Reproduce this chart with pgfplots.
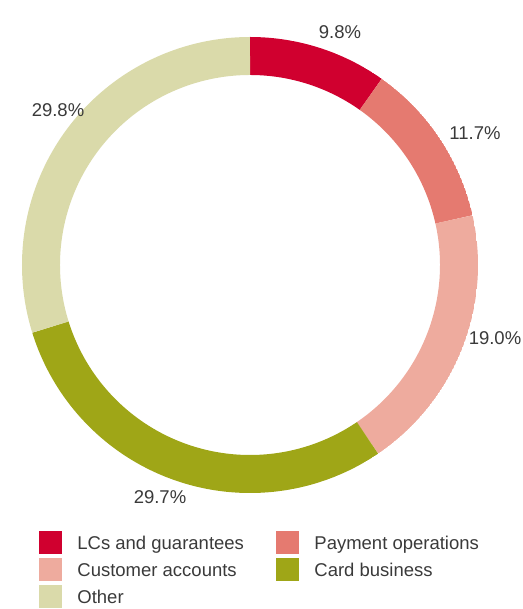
\documentclass[border=0pt]{standalone}
\usepackage{pgfplots}
\pgfplotsset{compat=1.18}
\usepgfplotslibrary{polar}
\usepackage{fontspec}
\setmainfont{Liberation Sans}
\definecolor{cLC}{HTML}{D0002F}
\definecolor{cPay}{HTML}{E57A70}
\definecolor{cCust}{HTML}{EEAB9E}
\definecolor{cCard}{HTML}{9FA617}
\definecolor{cOther}{HTML}{DADAAA}
\definecolor{txt}{HTML}{3A3A3A}
\begin{document}
\begin{tikzpicture}
\path[use as bounding box] (0pt,0pt) rectangle (522pt,609pt);
\coordinate (ctr) at (250pt,344pt);
% shares in percent, clockwise from the top
\pgfmathsetmacro\aA{90}
\pgfmathsetmacro\aB{\aA-3.6*9.8}
\pgfmathsetmacro\aC{\aB-3.6*11.7}
\pgfmathsetmacro\aD{\aC-3.6*19.0}
\pgfmathsetmacro\aE{\aD-3.6*29.7}
\pgfmathsetmacro\aF{\aE-3.6*29.8}
\begin{polaraxis}[
  hide axis,
  scale only axis,
  width=456pt, height=456pt,
  ymin=0, ymax=1,
  at={(ctr)}, anchor=center,
  legend columns=2,
  legend cell align=left,
  legend style={draw=none, fill=none, inner sep=0pt, outer sep=0pt,
    at={(-211pt,-266pt)}, anchor=north west,
    font=\fontsize{18.5}{22}\selectfont, text=txt,
    row sep=4.8pt,
    nodes={inner xsep=0pt, inner ysep=0pt},
    /tikz/column 2/.style={column sep=32pt},
    /tikz/column 1/.style={column sep=16pt},
    /tikz/column 3/.style={column sep=16pt},
  },
]
\addlegendimage{legend image code/.code={\fill[cLC] (0pt,-10pt) rectangle (22pt,12pt);}}
\addlegendentry{LCs and guarantees}
\addlegendimage{legend image code/.code={\fill[cPay] (0pt,-10pt) rectangle (22pt,12pt);}}
\addlegendentry{Payment operations}
\addlegendimage{legend image code/.code={\fill[cCust] (0pt,-10pt) rectangle (22pt,12pt);}}
\addlegendentry{Customer accounts}
\addlegendimage{legend image code/.code={\fill[cCard] (0pt,-10pt) rectangle (22pt,12pt);}}
\addlegendentry{Card business}
\addlegendimage{legend image code/.code={\fill[cOther] (0pt,-10pt) rectangle (22pt,12pt);}}
\addlegendentry{Other}
\addplot[forget plot, cLC, line width=38pt, domain=\aB:\aA, samples=80, no markers] {0.9167};
\addplot[forget plot, cPay, line width=38pt, domain=\aC:\aB, samples=80, no markers] {0.9167};
\addplot[forget plot, cCust, line width=38pt, domain=\aD:\aC, samples=100, no markers] {0.9167};
\addplot[forget plot, cCard, line width=38pt, domain=\aE:\aD, samples=150, no markers] {0.9167};
\addplot[forget plot, cOther, line width=38pt, domain=\aF:\aE, samples=150, no markers] {0.9167};
\end{polaraxis}
\begin{scope}[every node/.style={text=txt, font=\fontsize{18.5}{22}\selectfont}]
\node at (340pt,577pt) {9.8\%};
\node at (475pt,476pt) {11.7\%};
\node at (495pt,271pt) {19.0\%};
\node at (160pt,112pt) {29.7\%};
\node at (58pt,499pt) {29.8\%};
\end{scope}
\end{tikzpicture}
\end{document}
